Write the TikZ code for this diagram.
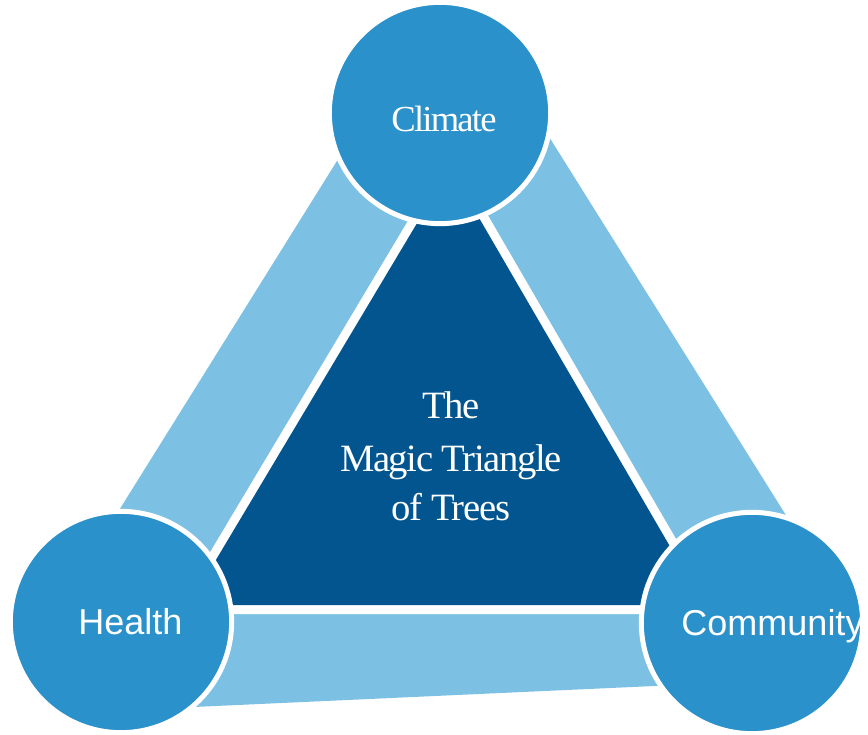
\documentclass[tikz,border=0pt]{standalone}
\usepackage{fontspec}
\setmainfont{Liberation Serif}
\setsansfont{Liberation Sans}
\newfontfamily\tightserif[LetterSpace=-3.5]{Liberation Serif}
\newfontfamily\tighterserif[LetterSpace=-5]{Liberation Serif}
\usetikzlibrary{positioning}
\definecolor{ringblue}{HTML}{2B91CA}
\definecolor{bandblue}{HTML}{7CC1E4}
\definecolor{coreblue}{HTML}{02558E}
\tikzset{
topic/.style={circle, fill=ringblue, draw=white, line width=3.75pt, minimum size=166pt, inner sep=0pt}, % the three outer circles
topic text/.style={text=white, inner sep=0pt, anchor=base, font=\sffamily\fontsize{27}{32}\selectfont}, % names in the circles
core text/.style={text=white, inner sep=0pt, anchor=base, font=\tightserif\fontsize{29}{38}\selectfont}, % serif words
}
\begin{document}
\begin{tikzpicture}[x=0.75pt, y=-0.75pt]
\useasboundingbox (0,0) rectangle (868,735);

% light band behind everything
\fill[bandblue] (375,100) -- (526,100) -- (814,560) -- (720,683) -- (150,709) -- (88,560) -- cycle;

% dark triangle with a white seam
\coordinate (apex) at (450,168);
\coordinate (left) at (189,605);
\coordinate (right) at (704,605);
\path[fill=white, draw=white, line width=13.5pt, line join=round] (apex) -- (left) -- (right) -- cycle;
\fill[coreblue] (apex) -- (left) -- (right) -- cycle;

% circles
\node[topic] (climate) at (440,113) {};
\node[topic] (health) at (121,622) {};
\node[topic] (community) at (752,623) {};

% texts
\node[core text, font=\tighterserif\fontsize{27.5}{32}\selectfont] (climatename) at (444,132) {Climate};
\node[topic text] (healthname) at (130.5,634) {Health};
\node[topic text] (communityname) at (772.5,635) {Community};
\node[core text] (line1) at (451,418) {The};
\node[core text] (line2) at (451,471) {Magic Triangle};
\node[core text] (line3) at (451,520) {of Trees};
\end{tikzpicture}
\end{document}
